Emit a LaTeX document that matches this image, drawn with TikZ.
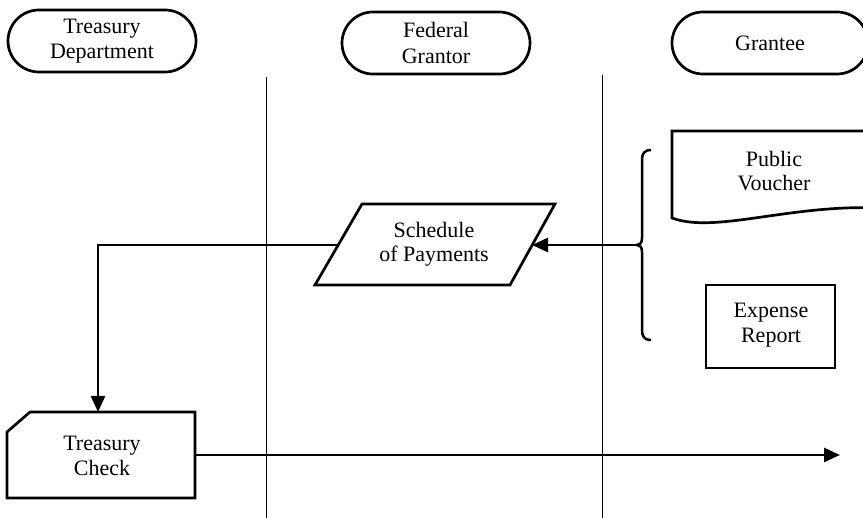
\documentclass[tikz,border=0pt]{standalone}
\usepackage{fontspec}
\setmainfont{Liberation Serif}
\usetikzlibrary{arrows.meta}
\begin{document}
\begin{tikzpicture}[x=1pt,y=-1pt,
  lbl/.style={align=center,font=\fontsize{22}{24.5}\selectfont,inner sep=0pt},
  term/.style={draw,line width=2.7pt,rounded corners=31pt,minimum width=188pt,minimum height=62pt,align=center,font=\fontsize{22}{25.5}\selectfont},
  shp/.style={draw,line width=2.7pt},
  lane/.style={line width=0.8pt},
  flow/.style={line width=2.7pt,-{Triangle[length=16pt,width=14pt]}}]
\clip (0,0) rectangle (863,518);
% swimlane headers
\node[term] (td) at (102,41) {Treasury\\Department};
\node[term] (fg) at (436,43) {Federal\\Grantor};
\node[term,minimum width=196pt] (gr) at (770,43) {Grantee};
% lane separators
\coordinate (l1t) at (266,77); \coordinate (l1b) at (266,518);
\coordinate (l2t) at (602,75); \coordinate (l2b) at (602,518);
\draw[lane] (l1t) -- (l1b);
\draw[lane] (l2t) -- (l2b);
% public voucher (document)
\draw[shp,fill=white] (880,131) -- (672,131) -- (672,218)
  .. controls (715,234) and (790,204) .. (880,208);
\node[lbl] (pv) at (774,171) {Public\\Voucher};
% expense report
\draw[shp] (706,285) rectangle (835,368);
\node[lbl] (er) at (771,325) {Expense\\Report};
% brace
\coordinate (brtip) at (637,245);
\draw[line width=2.5pt] (651,150) .. controls (644,150) and (642,154) .. (642,160)
  -- (642,238) .. controls (642,243) and (640,245) .. (brtip)
  .. controls (640,245) and (642,247) .. (642,252)
  -- (642,330) .. controls (642,336) and (644,340) .. (651,340);
% schedule of payments (parallelogram)
\draw[shp] (362,204) -- (555,204) -- (510,285) -- (315,285) -- cycle;
\node[lbl] (sp) at (434,244) {Schedule\\of Payments};
\coordinate (spR) at (532,245);
\coordinate (spL) at (338,245);
% treasury check (card)
\draw[shp] (7,432) -- (30,412) -- (195,412) -- (195,498) -- (7,498) -- cycle;
\node[lbl] (tc) at (102,456) {Treasury\\Check};
\coordinate (tcTop) at (98,412);
\coordinate (tcR) at (195,455);
\coordinate (end) at (840,455);
% connectors
\draw[flow] (brtip) -- (spR);
\draw[flow] (spL) -| (tcTop);
\draw[flow] (tcR) -- (end);
\end{tikzpicture}
\end{document}
